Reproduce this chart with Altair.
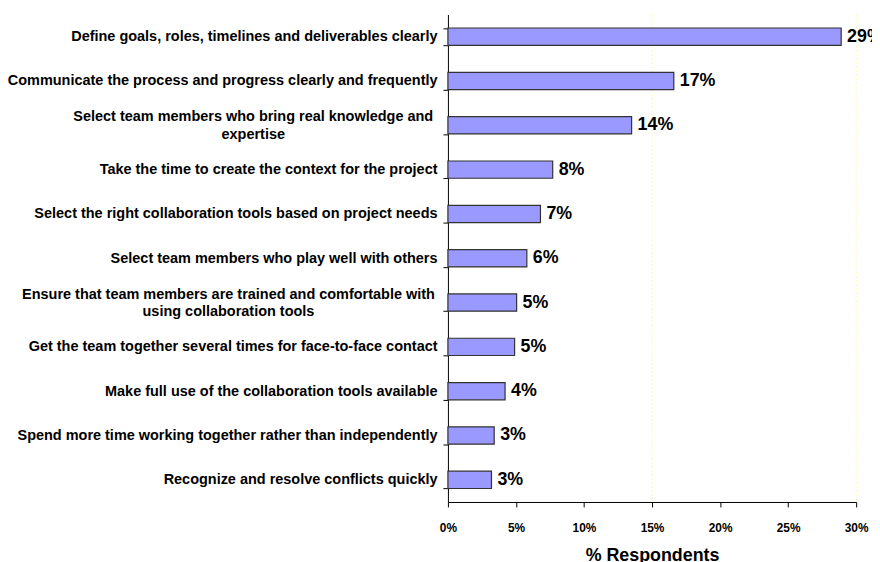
import altair as alt
import pandas as pd

categories = [
    "Define goals, roles, timelines and deliverables clearly",
    "Communicate the process and progress clearly and frequently",
    "Select team members who bring real knowledge and|expertise",
    "Take the time to create the context for the project",
    "Select the right collaboration tools based on project needs",
    "Select team members who play well with others",
    "Ensure that team members are trained and comfortable with|using collaboration tools",
    "Get the team together several times for face-to-face contact",
    "Make full use of the collaboration tools available",
    "Spend more time working together rather than independently",
    "Recognize and resolve conflicts quickly",
]
values = [0.289, 0.166, 0.135, 0.077, 0.068, 0.058, 0.0505, 0.049, 0.042, 0.034, 0.032]
value_labels = ["29%", "17%", "14%", "8%", "7%", "6%", "5%", "5%", "4%", "3%", "3%"]
tick_values = [0, 0.05, 0.10, 0.15, 0.20, 0.25, 0.30]
grid_values = [0.15, 0.30]

df = pd.DataFrame({"category": categories, "value": values, "label": value_labels})
grid_df = pd.DataFrame({"g": grid_values})

FONT = "Liberation Sans"
IS_STR = "isString(datum.value) && "
WRAPPED = IS_STR + "indexof(datum.value, '|') >= 0"

y_axis = alt.Axis(
    title=None,
    labelExpr="isString(datum.value) && indexof(datum.value, '|') >= 0 ? split(datum.value, '|') : datum.label",
    labelFont=FONT,
    labelFontWeight="bold",
    labelFontSize=14.6,
    labelColor="#000000",
    labelLineHeight=17.5,
    labelLimit=0,
    labelBaseline="middle",
    labelAlign={
        "condition": {"test": WRAPPED, "value": "center"},
        "value": "right",
    },
    labelOffset={
        "condition": {"test": WRAPPED, "value": -8.5},
        "value": 0,
    },
    labelPadding={
        "condition": [
            {"test": IS_STR + "indexof(datum.value, 'expertise') >= 0", "value": 192},
            {"test": IS_STR + "indexof(datum.value, 'Ensure') >= 0", "value": 217},
        ],
        "value": 6,
    },
    tickBand="extent",
    tickSize=5,
    tickColor="#000000",
    domainColor="#000000",
)

x_axis = alt.Axis(
    title="% Respondents",
    format=".0%",
    values=tick_values,
    grid=False,
    labelFlush=False,
    labelFont=FONT,
    labelFontWeight="bold",
    labelFontSize=12,
    labelColor="#000000",
    labelPadding=16,
    tickSize=5,
    tickColor="#000000",
    domainColor="#000000",
    titleFont=FONT,
    titleFontWeight="bold",
    titleFontSize=18,
    titleColor="#000000",
    titlePadding=13,
)

x_scale = alt.Scale(domain=[0, 0.30], nice=False)
y_scale = alt.Scale(paddingInner=0.61)

grid = alt.Chart(grid_df).mark_rule(color="#fff5b0", strokeDash=[2, 2], strokeWidth=1).encode(
    x=alt.X("g:Q", scale=x_scale, axis=x_axis, title="% Respondents")
)

bars = alt.Chart(df).mark_bar(color="#9999ff", stroke="#333333", strokeWidth=1.2).encode(
    x=alt.X("value:Q", scale=x_scale, axis=x_axis, title="% Respondents"),
    y=alt.Y("category:N", sort=categories, scale=y_scale, axis=y_axis),
)

texts = alt.Chart(df).mark_text(
    align="left", baseline="middle", dx=6, font=FONT, fontWeight="bold", fontSize=18, color="#000000"
).encode(
    x=alt.X("value:Q", scale=x_scale, axis=x_axis, title="% Respondents"),
    y=alt.Y("category:N", sort=categories, scale=y_scale, axis=y_axis),
    text="label:N",
)

chart = alt.layer(grid, bars, texts).properties(
    width=412,
    height=492,
    padding={"left": 444, "top": 4, "right": 16, "bottom": 58},
    autosize=alt.AutoSizeParams(type="none"),
    background="white",
).configure_view(stroke=None)

chart.save("out.html", embed_options={"renderer": "svg", "actions": False})
